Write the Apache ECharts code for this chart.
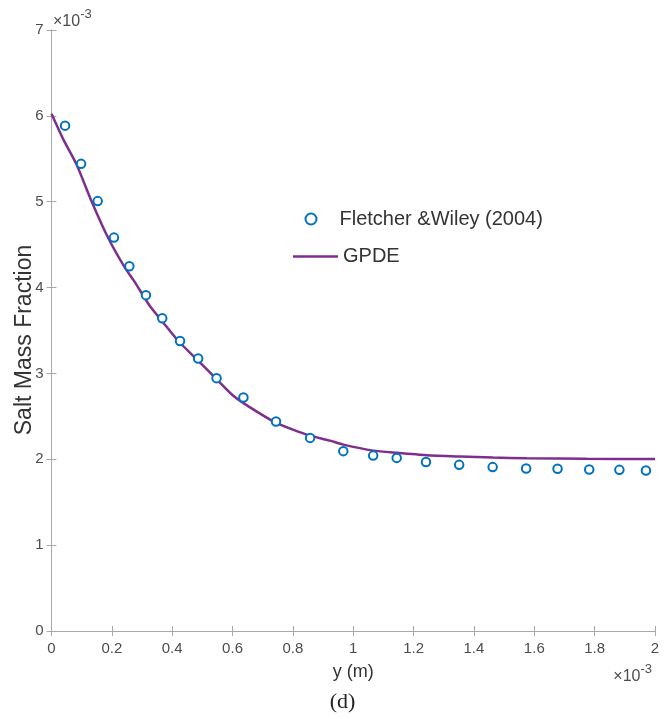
<!DOCTYPE html>
<html>
<head>
<meta charset="utf-8">
<script src="https://cdn.jsdelivr.net/npm/echarts@6/dist/echarts.min.js"></script>
<style>
html,body{margin:0;padding:0;background:#fff;}
#chart{width:670px;height:719px;}
</style>
</head>
<body>
<div id="chart"></div>
<script>
// Values in units of 1e-3 (axis multipliers shown as ×10^-3)
const expX = [0.045, 0.098, 0.153, 0.207, 0.258, 0.313, 0.367, 0.426, 0.486, 0.547, 0.636, 0.744, 0.857, 0.967, 1.066, 1.144, 1.241, 1.351, 1.462, 1.573, 1.677, 1.782, 1.882, 1.970];
const expY = [5.886, 5.441, 5.007, 4.582, 4.249, 3.912, 3.642, 3.378, 3.173, 2.945, 2.720, 2.440, 2.249, 2.095, 2.043, 2.016, 1.968, 1.935, 1.909, 1.893, 1.889, 1.882, 1.877, 1.870];
const gpdeX = [0, 0.04, 0.0835, 0.133, 0.188, 0.2436, 0.274, 0.326, 0.3705, 0.420, 0.481, 0.542, 0.6025, 0.658, 0.741, 0.80, 0.857, 0.923, 0.967, 1.066, 1.144, 1.243, 1.354, 1.463, 1.575, 1.774, 2.0];
const gpdeY = [6.025, 5.72, 5.43, 5.003, 4.577, 4.229, 4.075, 3.785, 3.591, 3.378, 3.166, 2.952, 2.740, 2.604, 2.430, 2.345, 2.275, 2.217, 2.171, 2.101, 2.075, 2.047, 2.032, 2.020, 2.012, 2.005, 2.003];
const xTicks = [0, 0.2, 0.4, 0.6, 0.8, 1, 1.2, 1.4, 1.6, 1.8, 2];
const yTicks = [0, 1, 2, 3, 4, 5, 6, 7];
const seriesNames = ['Fletcher &Wiley (2004)', 'GPDE'];

const FONT = '"Liberation Sans", Arial, Helvetica, sans-serif';
const axisCol = '#a8a8a8';
const labCol = '#4d4d4d';

const chart = echarts.init(document.getElementById('chart'), null, {renderer: 'canvas'});
const fmt = v => String(parseFloat(Number(v).toFixed(1)));

const baseX = {
  type: 'value', min: xTicks[0], max: xTicks[xTicks.length - 1], interval: 0.2,
  axisLine: {show: true, lineStyle: {color: axisCol, width: 1}},
  axisTick: {show: true, inside: true, length: 5, lineStyle: {color: axisCol}},
  splitLine: {show: false}
};
const baseY = {
  type: 'value', min: yTicks[0], max: yTicks[yTicks.length - 1], interval: 1,
  axisLine: {show: true, lineStyle: {color: axisCol, width: 1}},
  axisTick: {show: true, inside: true, length: 5, lineStyle: {color: axisCol}},
  splitLine: {show: false}
};
const expRich = (size, supSize) => ({
  a: {fontFamily: FONT, fontSize: size, fill: labCol, padding: [6, 0, 0, 0]},
  b: {fontFamily: FONT, fontSize: supSize, fill: labCol, verticalAlign: 'top'}
});

chart.setOption({
  backgroundColor: '#fff',
  animation: false,
  grid: {left: 51.5, right: 15, top: 30, bottom: 88, containLabel: false},
  xAxis: [
    Object.assign({}, baseX, {
      position: 'bottom',
      name: 'y (m)', nameLocation: 'middle', nameGap: 32,
      nameTextStyle: {fontFamily: FONT, fontSize: 18, color: '#333'},
      axisLabel: {show: true, formatter: fmt, fontFamily: FONT, fontSize: 15, color: labCol, margin: 10}
    }),
    Object.assign({}, baseX, {position: 'top', axisLabel: {show: false}})
  ],
  yAxis: [
    Object.assign({}, baseY, {
      position: 'left',
      axisLabel: {show: true, fontFamily: FONT, fontSize: 15, color: labCol, margin: 8}
    }),
    Object.assign({}, baseY, {position: 'right', axisLabel: {show: false}})
  ],
  legend: [
    {
      data: [{name: seriesNames[0], icon: 'emptyCircle'}],
      left: 299.5, top: 204, itemWidth: 11, itemHeight: 11, itemGap: 5,
      textStyle: {fontFamily: FONT, fontSize: 20, color: '#333', padding: [0, 0, 0, 18]},
      itemStyle: {borderWidth: 2.5}
    },
    {
      data: [{name: seriesNames[1], icon: 'rect'}],
      left: 288, top: 241.5, itemWidth: 45, itemHeight: 2.5,
      textStyle: {fontFamily: FONT, fontSize: 20, color: '#333'}
    }
  ],
  graphic: [
    {
      type: 'text', left: 53, top: 8,
      style: {text: '{a|×10}{b|-3}', rich: expRich(16, 13)}
    },
    {
      type: 'text', right: 18, top: 663,
      style: {text: '{a|×10}{b|-3}', rich: expRich(16, 13)}
    },
    {
      type: 'text', x: 24.5, y: 340, rotation: Math.PI / 2,
      style: {text: 'Salt Mass Fraction', fontFamily: FONT, fontSize: 23, fill: '#333',
              textAlign: 'center', textVerticalAlign: 'middle'}
    },
    {
      type: 'text', x: 342.5, y: 702,
      style: {text: '(d)', fontFamily: '"Liberation Serif", "Times New Roman", serif', fontSize: 22, fill: '#222',
              textAlign: 'center', textVerticalAlign: 'middle'}
    }
  ],
  series: [
    {
      name: seriesNames[0], type: 'scatter',
      data: expX.map((x, i) => [x, expY[i]]),
      symbol: 'emptyCircle', symbolSize: 8.5,
      itemStyle: {color: '#0072BD', borderColor: '#0072BD', borderWidth: 2.5, opacity: 1},
      z: 3
    },
    {
      name: seriesNames[1], type: 'line',
      data: gpdeX.map((x, i) => [x, gpdeY[i]]),
      showSymbol: false, symbol: 'none', smooth: 0.2,
      lineStyle: {color: '#7E2F8E', width: 2.5},
      itemStyle: {color: '#7E2F8E'},
      z: 2
    }
  ]
});
</script>
</body>
</html>
